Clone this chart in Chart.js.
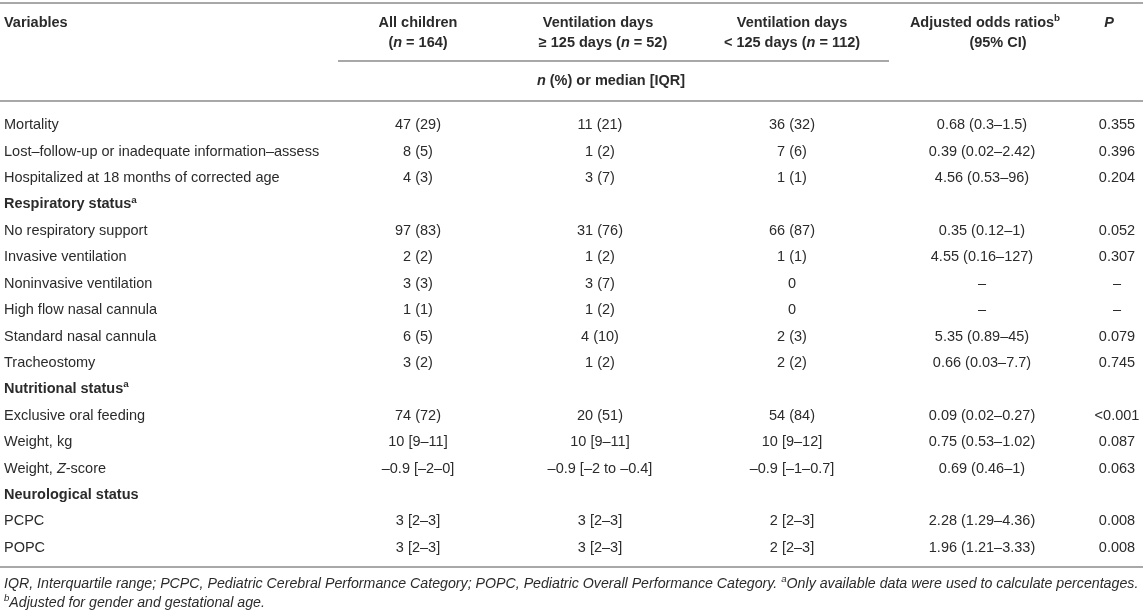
<!DOCTYPE html>
<html>
<head>
<meta charset="utf-8">
<script src="https://cdn.jsdelivr.net/npm/chart.js@4"></script>
<style>
  html, body { margin: 0; padding: 0; background: #fff; }
  #tbl { display: block; }
</style>
</head>
<body>
<canvas id="tbl" width="1143" height="616" style="width:1143px;height:616px"></canvas>
<script>
// table content; *..* = italic, ^..^ = superscript
const headerLine1 = ["Variables", "All children", "Ventilation days", "Ventilation days", "Adjusted odds ratios^b^", "*P*"];
const headerLine2 = ["", "(*n* = 164)", "≥ 125 days (*n* = 52)", "< 125 days (*n* = 112)", "(95% CI)", ""];
const subHeader = "*n* (%) or median [IQR]";

const rowLabels = [
  "Mortality",
  "Lost–follow-up or inadequate information–assess",
  "Hospitalized at 18 months of corrected age",
  "Respiratory status^a^",
  "No respiratory support",
  "Invasive ventilation",
  "Noninvasive ventilation",
  "High flow nasal cannula",
  "Standard nasal cannula",
  "Tracheostomy",
  "Nutritional status^a^",
  "Exclusive oral feeding",
  "Weight, kg",
  "Weight, *Z*-score",
  "Neurological status",
  "PCPC",
  "POPC"
];
const sectionRows = ["Respiratory status^a^", "Nutritional status^a^", "Neurological status"];

const allChildren = ["47 (29)", "8 (5)", "4 (3)", "", "97 (83)", "2 (2)", "3 (3)", "1 (1)", "6 (5)", "3 (2)", "", "74 (72)", "10 [9–11]", "–0.9 [–2–0]", "", "3 [2–3]", "3 [2–3]"];
const ventLong = ["11 (21)", "1 (2)", "3 (7)", "", "31 (76)", "1 (2)", "3 (7)", "1 (2)", "4 (10)", "1 (2)", "", "20 (51)", "10 [9–11]", "–0.9 [–2 to –0.4]", "", "3 [2–3]", "3 [2–3]"];
const ventShort = ["36 (32)", "7 (6)", "1 (1)", "", "66 (87)", "1 (1)", "0", "0", "2 (3)", "2 (2)", "", "54 (84)", "10 [9–12]", "–0.9 [–1–0.7]", "", "2 [2–3]", "2 [2–3]"];
const oddsRatios = ["0.68 (0.3–1.5)", "0.39 (0.02–2.42)", "4.56 (0.53–96)", "", "0.35 (0.12–1)", "4.55 (0.16–127)", "–", "–", "5.35 (0.89–45)", "0.66 (0.03–7.7)", "", "0.09 (0.02–0.27)", "0.75 (0.53–1.02)", "0.69 (0.46–1)", "", "2.28 (1.29–4.36)", "1.96 (1.21–3.33)"];
const pValues = ["0.355", "0.396", "0.204", "", "0.052", "0.307", "–", "–", "0.079", "0.745", "", "<0.001", "0.087", "0.063", "", "0.008", "0.008"];

const footnotes = [
  "IQR, Interquartile range; PCPC, Pediatric Cerebral Performance Category; POPC, Pediatric Overall Performance Category. ^a^Only available data were used to calculate percentages.",
  "^b^Adjusted for gender and gestational age."
];

// layout (pixels)
const colX = [4, 418, 600, 792, 982, 1117];
const head1X = [4, 418, 598, 792, 985, 1109];
const head2X = [4, 418, 603, 792, 998, 1109];
const colAlign = ["left", "center", "center", "center", "center", "center"];
const FONT = '"Liberation Sans", Arial, sans-serif';
const SIZE = 14.5;
const TEXT = "#2b2b2b";
const RULE = "#a8a8a8";

const columns = [rowLabels, allChildren, ventLong, ventShort, oddsRatios, pValues];

function parseRich(s) {
  const segs = [];
  let it = false, sup = false, buf = "";
  const push = () => { if (buf) segs.push({ t: buf, it: it, sup: sup }); buf = ""; };
  for (const ch of s) {
    if (ch === "*") { push(); it = !it; }
    else if (ch === "^") { push(); sup = !sup; }
    else buf += ch;
  }
  push();
  return segs;
}

function fontFor(seg, bold, size, italicAll) {
  const sz = seg.sup ? size * 0.68 : size;
  const it = seg.it || italicAll;
  return (it ? "italic " : "") + (bold ? "bold " : "") + sz + "px " + FONT;
}

function measureRich(ctx, s, bold, size, italicAll) {
  let w = 0;
  parseRich(s).forEach(g => { ctx.font = fontFor(g, bold, size, italicAll); w += ctx.measureText(g.t).width; });
  return w;
}

function drawRich(ctx, s, x, y, align, bold, size, italicAll) {
  const segs = parseRich(s);
  let w = 0;
  segs.forEach(g => { ctx.font = fontFor(g, bold, size, italicAll); g.w = ctx.measureText(g.t).width; w += g.w; });
  let cx = align === "left" ? x : align === "right" ? x - w : x - w / 2;
  segs.forEach(g => {
    ctx.font = fontFor(g, bold, size, italicAll);
    ctx.fillText(g.t, cx, g.sup ? y - size * 0.32 : y);
    cx += g.w;
  });
}

function rule(ctx, x1, x2, y) {
  ctx.save();
  ctx.strokeStyle = RULE;
  ctx.lineWidth = 2;
  ctx.beginPath();
  ctx.moveTo(x1, y);
  ctx.lineTo(x2, y);
  ctx.stroke();
  ctx.restore();
}

const tablePlugin = {
  id: "tableText",
  afterDatasetsDraw(chart) {
    const ctx = chart.ctx;
    const area = chart.chartArea;
    const W = chart.width;
    ctx.save();
    ctx.fillStyle = TEXT;
    ctx.textBaseline = "middle";

    // header
    rule(ctx, 0, W, 3);
    headerLine1.forEach((h, c) => drawRich(ctx, h, head1X[c], 23, colAlign[c], true, SIZE));
    headerLine2.forEach((h, c) => drawRich(ctx, h, head2X[c], 43, colAlign[c], true, SIZE));
    rule(ctx, 338, 889, 61);
    drawRich(ctx, subHeader, 611, 81, "center", true, SIZE);
    rule(ctx, 0, W, 101);

    // body cells, placed on the points laid out by the scales
    chart.data.datasets.forEach((ds, c) => {
      const meta = chart.getDatasetMeta(c);
      meta.data.forEach((pt, r) => {
        const txt = columns[c][r];
        if (!txt) return;
        const bold = c === 0 && sectionRows.includes(txt);
        drawRich(ctx, txt, pt.x, pt.y, colAlign[c], bold, SIZE);
      });
    });

    rule(ctx, 0, W, area.bottom + 6);

    // footnotes, sized so the first line fills the width
    const fs = 13.5 * 1135 / measureRich(ctx, footnotes[0], false, 13.5, true);
    drawRich(ctx, footnotes[0], 4, area.bottom + 23, "left", false, fs, true);
    drawRich(ctx, footnotes[1], 4, area.bottom + 42, "left", false, fs, true);
    ctx.restore();
  }
};

new Chart(document.getElementById("tbl"), {
  type: "scatter",
  data: {
    datasets: columns.map((col, c) => ({
      label: headerLine1[c],
      data: rowLabels.map(r => ({ x: colX[c], y: r })),
      pointRadius: 0,
      pointHoverRadius: 0,
      showLine: false
    }))
  },
  options: {
    responsive: false,
    animation: false,
    devicePixelRatio: 1,
    layout: { padding: { top: 112, bottom: 55, left: 0, right: 0 } },
    plugins: { legend: { display: false }, tooltip: { enabled: false } },
    events: [],
    scales: {
      x: { type: "linear", min: 0, max: 1143, display: false },
      y: { type: "category", labels: rowLabels, offset: true, display: false }
    }
  },
  plugins: [tablePlugin]
});
</script>
</body>
</html>
